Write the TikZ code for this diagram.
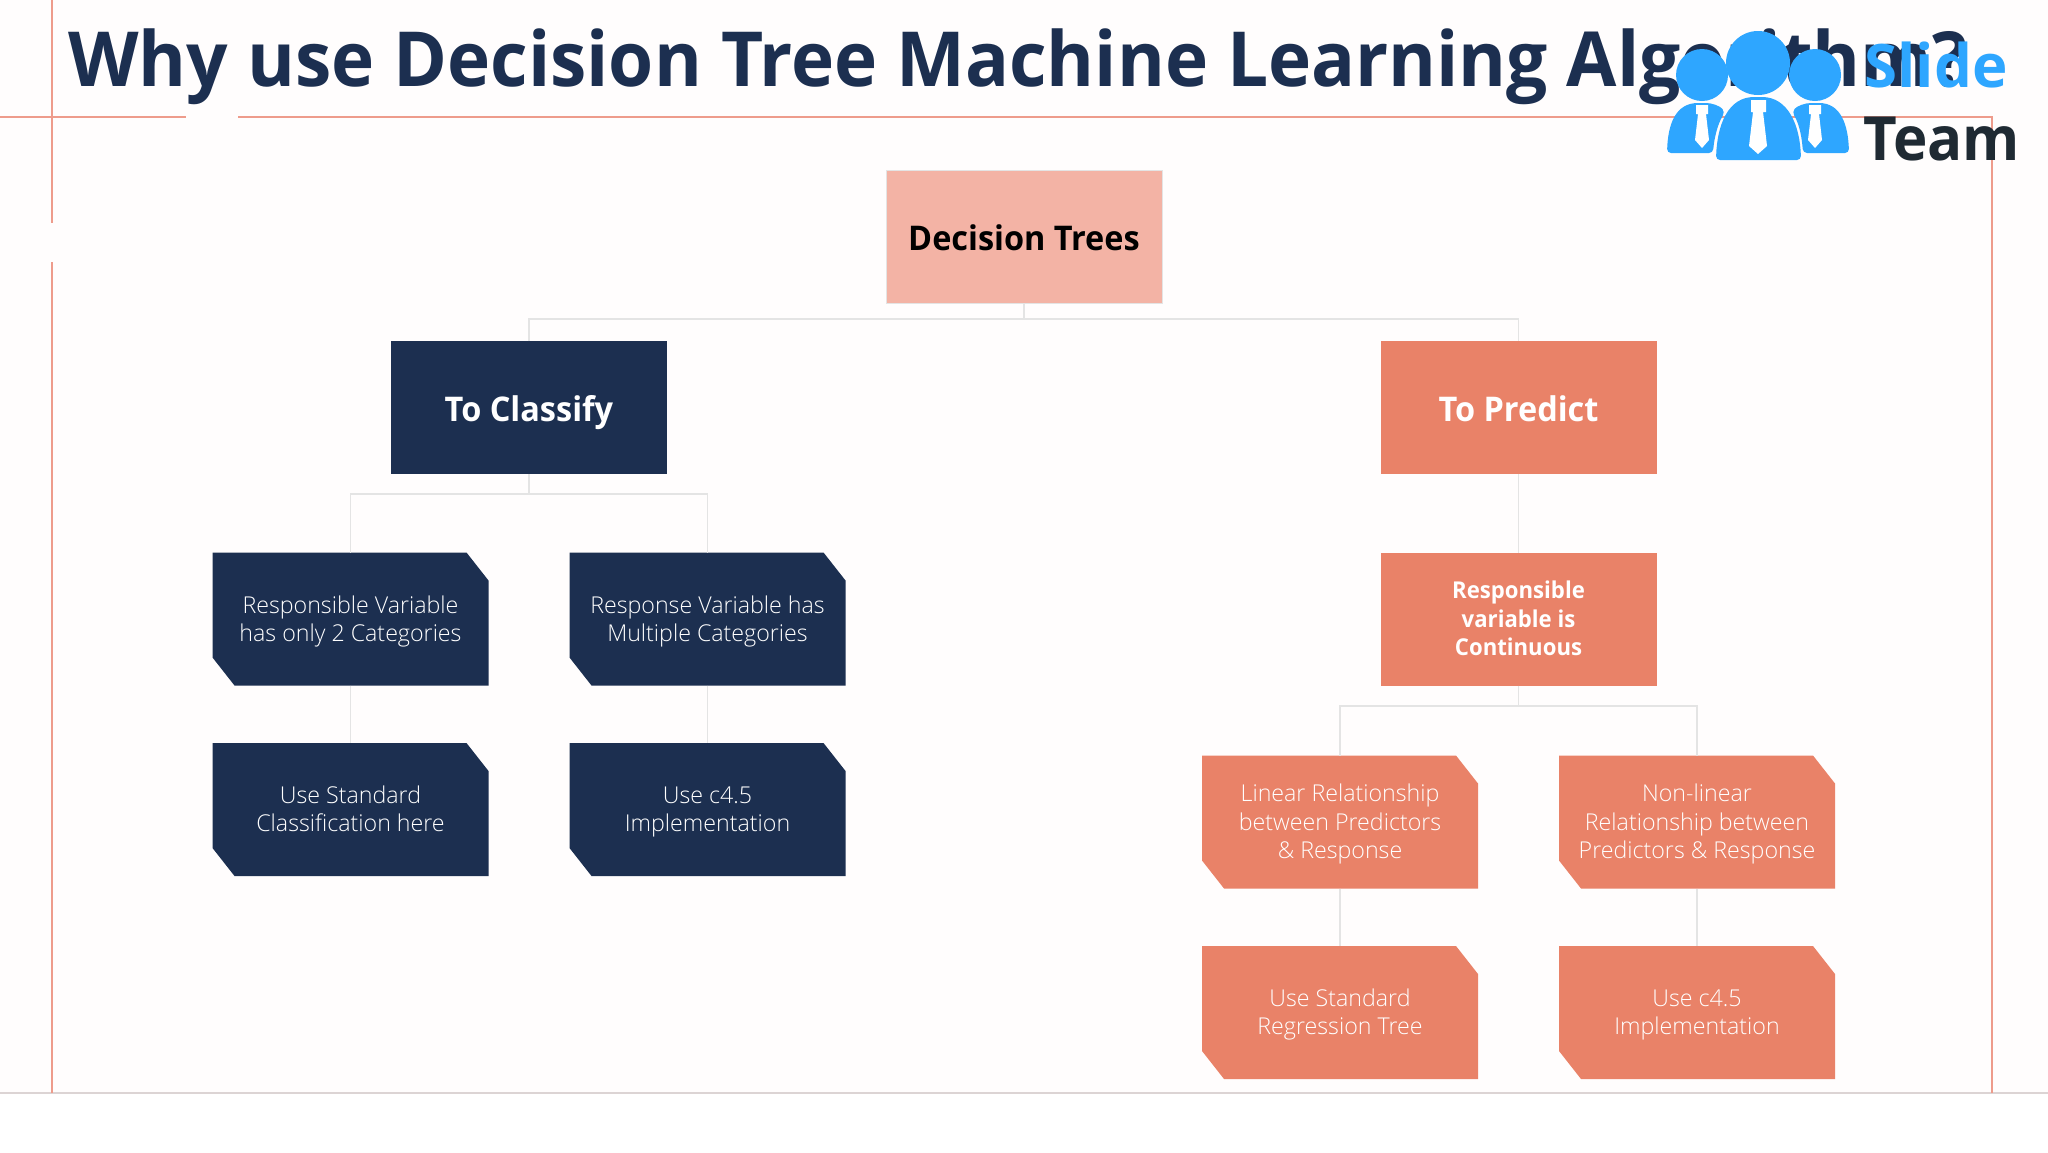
\documentclass[tikz,border=0pt]{standalone}
\usepackage{fontspec}
\setmainfont{Open Sans}
\newfontfamily\lightf{Open Sans Light}
\newfontfamily\boldf[FakeStretch=0.955]{Open Sans Bold}
\newfontfamily\titlef[FakeStretch=0.96]{Open Sans Bold}
\newfontfamily\boldn{Open Sans Bold}
\newcommand\liftline{\rule{0pt}{11.2pt}}
\newcommand\dropline{\rule[-3pt]{0pt}{3pt}}
\definecolor{navy}{HTML}{1C2F50}
\definecolor{salmon}{HTML}{E98268}
\definecolor{blush}{HTML}{F3B3A5}
\definecolor{rule}{HTML}{EE9C8C}
\definecolor{wire}{HTML}{E4E4E4}
\definecolor{base}{HTML}{DCD4D4}
\definecolor{paper}{HTML}{FFFDFD}
\definecolor{logoblue}{HTML}{2EA6FF}
\definecolor{logodark}{HTML}{1F2A33}
\tikzset{
  plainbox/.style={rectangle,minimum width=138pt,minimum height=66.5pt,inner sep=0pt,outer sep=0pt,align=center},
  headbox/.style={plainbox,text height=15pt,text depth=1.4pt,font=\boldf\fontsize{17}{20}\selectfont},
  cutbox/.style={plainbox,text=white,font=\lightf\fontsize{11.6}{14.2}\selectfont,
    path picture={\fill[#1]
      ([xshift=11pt]path picture bounding box.south west) --
      (path picture bounding box.south east) --
      ([yshift=-14pt]path picture bounding box.north east) --
      ([xshift=-11pt]path picture bounding box.north east) --
      (path picture bounding box.north west) --
      ([yshift=14pt]path picture bounding box.south west) -- cycle;}},
  wired/.style={draw=wire,line width=0.6pt},
  ruled/.style={draw=rule,line width=0.6pt},
}
\begin{document}
\begin{tikzpicture}[x=0.5pt,y=-0.5pt]
\useasboundingbox (0,0) rectangle (2048,1152);
\fill[white] (0,0) rectangle (2048,1152);
\fill[paper] (0,0) rectangle (2048,1093);
% frame rules
\draw[draw=base,line width=0.7pt] (0,1093) -- (2048,1093);
\draw[ruled] (52,0) -- (52,223);
\draw[ruled] (52,262) -- (52,1093);
\draw[ruled] (0,117) -- (186,117);
\draw[ruled] (238,117) -- (1992,117) -- (1992,1093);
% boxes
\node[headbox,fill=blush,draw=wire,line width=0.4pt,text=black] (root) at (1024,236.5) {Decision Trees};
\node[headbox,fill=navy,text=white] (cls) at (529,407.5) {To Classify};
\node[headbox,fill=salmon,text=white] (pred) at (1518.5,407.5) {To Predict};
\node[cutbox=navy] (c1) at (350.5,619) {\liftline Responsible Variable\\has only 2 Categories\dropline};
\node[cutbox=navy] (c2) at (707.5,619) {\liftline Response Variable has\\Multiple Categories\dropline};
\node[cutbox=navy] (c3) at (350.5,809.5) {\liftline Use Standard\\Classification here\dropline};
\node[cutbox=navy] (c4) at (707.5,809.5) {\liftline Use c4.5\\Implementation\dropline};
\node[plainbox,fill=salmon,text=white,font=\boldf\fontsize{11.6}{14.2}\selectfont] (p0) at (1518.5,619) {\liftline Responsible\\variable is\\Continuous\dropline};
\node[cutbox=salmon] (p1) at (1340,822) {\liftline Linear Relationship\\between Predictors\\\& Response\dropline};
\node[cutbox=salmon] (p2) at (1697,822) {\liftline Non-linear\\Relationship between\\Predictors \& Response\dropline};
\node[cutbox=salmon] (p3) at (1340,1012.5) {\liftline Use Standard\\Regression Tree\dropline};
\node[cutbox=salmon] (p4) at (1697,1012.5) {\liftline Use c4.5\\Implementation\dropline};
% connectors
\coordinate (busa) at (0,319);
\coordinate (busb) at (0,494);
\coordinate (busc) at (0,706);
\draw[wired] (root.south) -- (root.south |- busa);
\draw[wired] (cls.north) -- (cls.north |- busa) -- (pred.north |- busa) -- (pred.north);
\draw[wired] (cls.south) -- (cls.south |- busb);
\draw[wired] (c1.north) -- (c1.north |- busb) -- (c2.north |- busb) -- (c2.north);
\draw[wired] (c1.south) -- (c3.north);
\draw[wired] (c2.south) -- (c4.north);
\draw[wired] (pred.south) -- (p0.north);
\draw[wired] (p0.south) -- (p0.south |- busc);
\draw[wired] (p1.north) -- (p1.north |- busc) -- (p2.north |- busc) -- (p2.north);
\draw[wired] (p1.south) -- (p3.north);
\draw[wired] (p2.south) -- (p4.north);
% title
\node[anchor=base west,inner sep=0pt,text=navy,font=\titlef\fontsize{38}{44}\selectfont] (title) at (68,86) {Why use Decision Tree Machine Learning Algorithm?};
% logo
\begin{scope}[fill=logoblue]
\fill (1702,75) circle[radius=26];
\fill (1815,75) circle[radius=26];
\fill (1758,63) circle[radius=32];
\fill[rounded corners=2pt] (1667,153) .. controls (1668,125) and (1675,103) .. (1702,103) .. controls (1712,103) and (1720,106) .. (1725,112) .. controls (1717,125) and (1714,140) .. (1713,153) -- cycle;
\fill[rounded corners=2pt] (1849,153) .. controls (1848,125) and (1841,103) .. (1815,103) .. controls (1805,103) and (1797,106) .. (1792,112) .. controls (1800,125) and (1802,140) .. (1803,153) -- cycle;
\fill[rounded corners=2pt] (1716,160) .. controls (1717,125) and (1728,97) .. (1758,97) .. controls (1788,97) and (1800,125) .. (1801,160) -- cycle;
\end{scope}
\begin{scope}[fill=white]
\fill (1751,100) -- (1766,100) -- (1766,112) -- (1763,112) -- (1767,146) -- (1758,154) -- (1749,146) -- (1753,112) -- (1751,112) -- cycle;
\fill (1696,105) -- (1708,105) -- (1708,114) -- (1706,114) -- (1709,140) -- (1702,148) -- (1695,140) -- (1698,114) -- (1696,114) -- cycle;
\fill (1809,105) -- (1821,105) -- (1821,114) -- (1819,114) -- (1822,140) -- (1815,148) -- (1808,140) -- (1811,114) -- (1809,114) -- cycle;
\end{scope}
\node[anchor=base west,inner sep=0pt,text=logoblue,font=\boldn\fontsize{30}{34}\selectfont] (slide) at (1864,87) {Slide};
\node[anchor=base west,inner sep=0pt,text=logodark,font=\boldf\fontsize{30.5}{34}\selectfont] (team) at (1863,160) {Team};
\end{tikzpicture}
\end{document}
